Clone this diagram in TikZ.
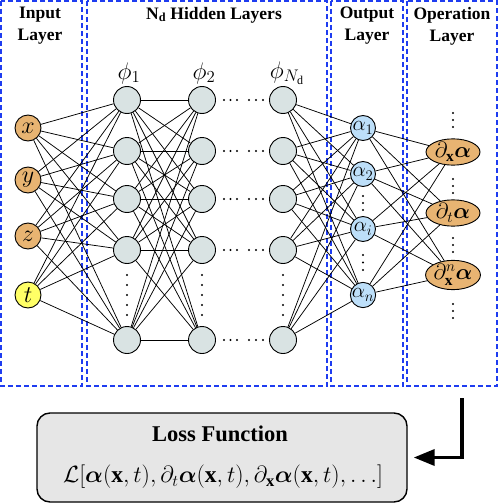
\RequirePackage{fix-cm}
\documentclass[tikz,border=0pt]{standalone}
\usepackage{amsmath}
\usepackage{fontspec}
\setmainfont{Liberation Serif}
\usetikzlibrary{shapes.geometric,arrows.meta}

\definecolor{inorange}{RGB}{232,180,114}
\definecolor{tyellow}{RGB}{255,255,102}
\definecolor{hidgray}{RGB}{217,227,227}
\definecolor{outblue}{RGB}{189,223,249}
\definecolor{boxblue}{RGB}{30,60,240}
\definecolor{lossgray}{RGB}{230,230,230}

\newcommand{\nodefont}{\fontsize{24}{26}\selectfont}
\newcommand{\alphafont}{\fontsize{21}{24}\selectfont}
\newcommand{\opfont}{\fontsize{22}{24}\selectfont}
\newcommand{\phifont}{\fontsize{24}{26}\selectfont}
% row of small dots: x, y, steps, dx, dy
\newcommand{\dotline}[5]{\foreach \k in {0,...,#3} {\fill ({#1+\k*#4},{#2+\k*#5}) circle (1.1pt);}}

\begin{document}
\begin{tikzpicture}[x=1pt,y=-1pt,
  every node/.style={inner sep=0pt},
  layerbox/.style={draw=boxblue, line width=1.3pt, dash pattern=on 5pt off 3pt},
  title/.style={font=\bfseries\fontsize{17.5}{22}\selectfont, align=center},
  inp/.style={circle, draw, line width=0.9pt, fill=inorange, minimum size=26pt, font=\nodefont},
  hid/.style={circle, draw, line width=0.9pt, fill=hidgray, minimum size=27pt},
  outp/.style={circle, draw, line width=0.9pt, fill=outblue, minimum size=25pt, font=\alphafont},
  oper/.style={ellipse, draw, line width=0.9pt, fill=inorange, minimum width=54pt, minimum height=26pt, font=\opfont},
  conn/.style={line width=0.75pt},
  feedback/.style={line width=3.5pt, -{Triangle[length=21pt,width=16pt]}},
  lossbox/.style={draw, line width=1.4pt, rounded corners=13pt, fill=lossgray, minimum width=370pt, minimum height=89pt}
]
\useasboundingbox (0,0) rectangle (499,503);
\fill[white] (0,0) rectangle (499,503);

% layer boxes
\draw[layerbox] (1,1) rectangle (82,386);
\draw[layerbox] (87,1) rectangle (327,386);
\draw[layerbox] (331,1) rectangle (403,386);
\draw[layerbox] (407,1) rectangle (497,386);

% titles
\node[title] (tin) at (40,26) {Input\\Layer};
\node[title] (thid) at (214,15) {N\textsubscript{d} Hidden Layers};
\node[title] (tout) at (367,26) {Output\\Layer};
\node[title] (top) at (452,26) {Operation\\Layer};

% input layer
\node[inp] (in1) at (28,128) {$x$};
\node[inp] (in2) at (28,180) {$y$};
\node[inp] (in3) at (28,236) {$z$};
\node[inp, fill=tyellow] (in4) at (28,295) {$t$};

% hidden layers
\foreach \c/\cx in {1/127,2/202,3/283}
  \foreach \r/\ry in {1/100,2/151,3/199,4/250,5/340}
    \node[hid] (h\c\r) at (\cx,\ry) {};
\node[font=\phifont] (phi1) at (129,73) {$\phi_1$};
\node[font=\phifont] (phi2) at (204,73) {$\phi_2$};
\node[font=\phifont] (phin) at (287,73) {$\phi_{N_\mathrm{d}}$};

% output layer
\node[outp] (out1) at (363,128) {$\alpha_1$};
\node[outp] (out2) at (363,174) {$\alpha_2$};
\node[outp] (out3) at (363,229) {$\alpha_i$};
\node[outp] (out4) at (363,295) {$\alpha_n$};

% operation layer
\node[oper] (op1) at (453,152) {$\partial_{\mathbf{x}}\boldsymbol{\alpha}$};
\node[oper] (op2) at (453,213) {$\partial_t\boldsymbol{\alpha}$};
\node[oper] (op3) at (453,275) {$\partial_{\mathbf{x}}^{n}\boldsymbol{\alpha}$};

% connections
\foreach \i in {1,...,4}
  \foreach \j in {1,...,5}
    \draw[conn] (in\i) -- (h1\j);
\foreach \i in {1,...,5}
  \foreach \j in {1,...,5}
    \draw[conn] (h1\i) -- (h2\j);
\foreach \i in {1,...,5}
  \foreach \j in {1,...,4}
    \draw[conn] (h3\i) -- (out\j);
\foreach \i in {1,...,4}
  \foreach \j in {1,...,3}
    \draw[conn] (out\i) -- (op\j);

% dots
\foreach \cx in {127,202,283} {
  \dotline{\cx}{275}{4}{0}{10}
}
\foreach \ry in {100,151,199,250,340} {
  \dotline{224}{\ry}{2}{6.5}{0}
  \dotline{249}{\ry}{2}{7}{0}
}
\dotline{363}{196}{2}{0}{7}
\dotline{363}{255}{2}{0}{7.5}
\dotline{453}{113}{2}{0}{7}
\dotline{453}{179}{2}{0}{7}
\dotline{453}{238}{2}{0}{7}
\dotline{453}{304}{2}{0}{7}

% loss function
\node[lossbox] (loss) at (222,457.5) {};
\node[font=\bfseries\fontsize{22.5}{25}\selectfont] (losstitle) at (220,434) {Loss Function};
\node[font=\fontsize{23.5}{26}\selectfont] (lossfn) at (223,477)
  {$\mathcal{L}[\boldsymbol{\alpha}(\mathbf{x},t),\partial_t\boldsymbol{\alpha}(\mathbf{x},t),\partial_{\mathbf{x}}\boldsymbol{\alpha}(\mathbf{x},t),\ldots]$};
\coordinate (fbstart) at (462,398);
\draw[feedback] (fbstart) |- ([xshift=6pt]loss.east);
\end{tikzpicture}
\end{document}
